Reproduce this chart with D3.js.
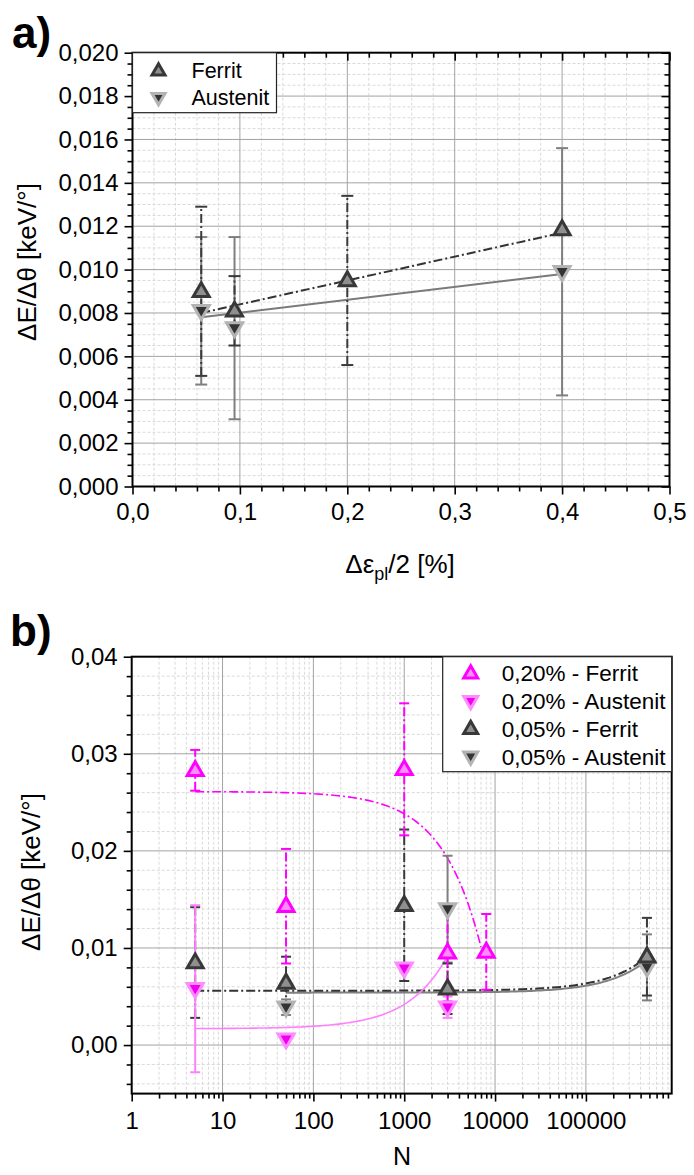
<!DOCTYPE html>
<html>
<head>
<meta charset="utf-8">
<script src="https://cdn.jsdelivr.net/npm/d3@7"></script>
<style>
  body { margin: 0; background: #fff; }
  svg { display: block; }
  text { font-family: "Liberation Sans", Arial, sans-serif; fill: #000; }
</style>
</head>
<body>
<svg id="chart" width="694" height="1175"></svg>
<script>
// ---------- DATA: chart a) ----------
const aStrainFerrit = [0.064, 0.095, 0.2, 0.4];
const aFerrit = [0.0090, 0.0081, 0.0095, 0.01185];
const aFerritErr = [0.0039, 0.0016, 0.0039, 0];
const aStrainAust = [0.064, 0.095, 0.4];
const aAust = [0.0081, 0.0073, 0.0099];
const aAustErr = [0.0034, 0.0042, 0.0057];
const aFitFerrit = [[0.064, 0.0080], [0.4, 0.0117]];
const aFitAust = [[0.064, 0.0078], [0.4, 0.0098]];
const aXTicks = [0, 0.1, 0.2, 0.3, 0.4, 0.5];
const aYTicks = [0, 0.002, 0.004, 0.006, 0.008, 0.010, 0.012, 0.014, 0.016, 0.018, 0.020];
const aLegend = ["Ferrit", "Austenit"];

// ---------- DATA: chart b) ----------
const bN_F20 = [5, 50, 1000, 3000, 8000];
const bF20 = [0.0283, 0.0143, 0.0284, 0.0095, 0.0096];
const bF20Err = [0.0021, 0.0059, 0.0068, 0.0050, 0.0039];
const bN_A20 = [5, 50, 1000, 3000];
const bA20 = [0.0058, 0.0006, 0.0079, 0.0039];
const bA20Err = [0.0086, 0, 0.0003, 0.0011];
const bN_F05 = [5, 50, 1000, 3000, 470000];
const bF05 = [0.0085, 0.0064, 0.0144, 0.0058, 0.0091];
const bF05Err = [0.0057, 0.0027, 0.0078, 0.0026, 0.0040];
const bN_A05 = [50, 3000, 470000];
const bA05 = [0.0039, 0.0140, 0.0080];
const bA05Err = [0.0008, 0.0055, 0.0034];
const bFitF20 = [[5, 0.0261], [7000, 0.0101]];
const bFitA20 = [[5, 0.0017], [3000, 0.0092]];
const bFitF05 = [[5, 0.0056], [470000, 0.0091]];
const bFitA05 = [[50, 0.0054], [450000, 0.0086]];
const bXTicks = [1, 10, 100, 1000, 10000, 100000];
const bYTicks = [0, 0.01, 0.02, 0.03, 0.04];
const bLegend = ["0,20% - Ferrit", "0,20% - Austenit", "0,05% - Ferrit", "0,05% - Austenit"];

// ---------- helpers ----------
const svg = d3.select("#chart");
const loc = d3.formatLocale({decimal: ",", thousands: "", grouping: [3], currency: ["", ""]});
const DASHDOT = "9,3,2,3";
const MAJ = "#a3a3a3", MIN = "#d9d9d9";
const TICKFONT = 24;

const styles = {
  ferrit:  {stroke: "#383838", fill: "#8f8f8f", up: true,  err: "#3a3a3a", dash: DASHDOT},
  aust:    {stroke: "#b3b3b3", fill: "#333333", up: false, err: "#7f7f7f", dash: null},
  ferritM: {stroke: "#ff00ff", fill: "#ff8cff", up: true,  err: "#ff00ff", dash: DASHDOT},
  austM:   {stroke: "#ff8cff", fill: "#ee00ee", up: false, err: "#ff80ff", dash: null}
};

function tri(g, x, y, st, size) {
  const s = size || 15;
  const h = s * 0.87;
  const p = st.up
    ? [[x, y - h * 0.62], [x + s / 2, y + h * 0.38], [x - s / 2, y + h * 0.38]]
    : [[x, y + h * 0.62], [x + s / 2, y - h * 0.38], [x - s / 2, y - h * 0.38]];
  g.append("path").attr("d", "M" + p.map(d => d.join(",")).join("L") + "Z")
    .attr("fill", st.fill).attr("stroke", st.stroke).attr("stroke-width", 3)
    .attr("stroke-linejoin", "miter");
}

function errBar(g, x, y, st, xs, ys, capW) {
  g.append("line").attr("x1", xs(x)).attr("x2", xs(x))
    .attr("y1", ys(y[0])).attr("y2", ys(y[1]))
    .attr("stroke", st.err).attr("stroke-width", 2)
    .attr("stroke-dasharray", st.dash);
  [y[0], y[1]].forEach(v => {
    g.append("line").attr("x1", xs(x) - capW).attr("x2", xs(x) + capW)
      .attr("y1", ys(v)).attr("y2", ys(v))
      .attr("stroke", st.err).attr("stroke-width", 2);
  });
}

// =============== CHART a) ===============
(function () {
  const L = 132.5, R = 669.5, T = 52.7, B = 486.5;
  const x = d3.scaleLinear().domain([0, 0.5]).range([L, R]);
  const y = d3.scaleLinear().domain([0, 0.02]).range([B, T]);
  const g = svg.append("g");

  const xMinor = d3.range(0, 0.5001, 0.02).filter(v => Math.abs(v * 10 - Math.round(v * 10)) > 1e-6);
  const yMinor = d3.range(0, 0.02001, 0.0005).filter(v => Math.abs(v / 0.002 - Math.round(v / 0.002)) > 1e-6);
  xMinor.forEach(v => g.append("line").attr("x1", x(v)).attr("x2", x(v)).attr("y1", T).attr("y2", B)
    .attr("stroke", MIN).attr("stroke-dasharray", "3,2"));
  yMinor.forEach(v => g.append("line").attr("x1", L).attr("x2", R).attr("y1", y(v)).attr("y2", y(v))
    .attr("stroke", MIN).attr("stroke-dasharray", "3,2"));
  aXTicks.slice(1, -1).forEach(v => g.append("line").attr("x1", x(v)).attr("x2", x(v)).attr("y1", T).attr("y2", B)
    .attr("stroke", MAJ));
  aYTicks.slice(1, -1).forEach(v => g.append("line").attr("x1", L).attr("x2", R).attr("y1", y(v)).attr("y2", y(v))
    .attr("stroke", MAJ));

  const fx = loc.format(".1f"), fy = loc.format(".3f");
  const ax = g.append("g").attr("transform", `translate(0,${B})`)
    .call(d3.axisBottom(x).tickValues(aXTicks).tickFormat(fx).tickSize(8).tickPadding(8));
  const axm = g.append("g").attr("transform", `translate(0,${B})`)
    .call(d3.axisBottom(x).tickValues(xMinor).tickFormat("").tickSize(5));
  const ay = g.append("g").attr("transform", `translate(${L},0)`)
    .call(d3.axisLeft(y).tickValues(aYTicks).tickFormat(fy).tickSize(8).tickPadding(6));
  const aym = g.append("g").attr("transform", `translate(${L},0)`)
    .call(d3.axisLeft(y).tickValues(yMinor).tickFormat("").tickSize(5));
  const at = g.append("g").attr("transform", `translate(0,${T})`)
    .call(d3.axisBottom(x).tickValues(aXTicks).tickFormat("").tickSize(8));
  const atm = g.append("g").attr("transform", `translate(0,${T})`)
    .call(d3.axisBottom(x).tickValues(xMinor).tickFormat("").tickSize(5));
  const ar = g.append("g").attr("transform", `translate(${R},0)`)
    .call(d3.axisLeft(y).tickValues(aYTicks).tickFormat("").tickSize(8));
  const arm = g.append("g").attr("transform", `translate(${R},0)`)
    .call(d3.axisLeft(y).tickValues(yMinor).tickFormat("").tickSize(5));
  [ax, axm, ay, aym, at, atm, ar, arm].forEach(a => {
    a.select(".domain").remove();
    a.selectAll(".tick line").attr("stroke", "#000").attr("stroke-width", 1.6);
  });
  [ax, ay].forEach(a => a.selectAll("text").attr("font-size", TICKFONT).attr("fill", "#000"));
  g.append("rect").attr("x", L).attr("y", T).attr("width", R - L).attr("height", B - T)
    .attr("fill", "none").attr("stroke", "#000").attr("stroke-width", 2);

  const line = d3.line().x(d => x(d[0])).y(d => y(d[1]));
  g.append("path").attr("d", line(aFitAust)).attr("stroke", "#7a7a7a").attr("stroke-width", 2).attr("fill", "none");
  g.append("path").attr("d", line(aFitFerrit)).attr("stroke", "#333").attr("stroke-width", 2)
    .attr("stroke-dasharray", DASHDOT).attr("fill", "none");

  aStrainAust.forEach((s, i) => errBar(g, s, [aAust[i] - aAustErr[i], aAust[i] + aAustErr[i]], styles.aust, x, y, 6));
  aStrainFerrit.forEach((s, i) => { if (aFerritErr[i] > 0)
    errBar(g, s, [aFerrit[i] - aFerritErr[i], aFerrit[i] + aFerritErr[i]], styles.ferrit, x, y, 6); });
  aStrainAust.forEach((s, i) => tri(g, x(s), y(aAust[i]), styles.aust, 16));
  aStrainFerrit.forEach((s, i) => tri(g, x(s), y(aFerrit[i]), styles.ferrit, 16));

  const lg = g.append("g");
  lg.append("rect").attr("x", L).attr("y", T).attr("width", 144).attr("height", 60)
    .attr("fill", "#fff").attr("stroke", "#222").attr("stroke-width", 1.2);
  [styles.ferrit, styles.aust].forEach((st, i) => {
    const yy = T + 18 + i * 27;
    tri(lg, L + 26, yy, st, 13);
    lg.append("text").attr("x", L + 59).attr("y", yy).attr("dy", "0.36em")
      .attr("font-size", 21.5).text(aLegend[i]);
  });

  const xt = g.append("text").attr("x", 400).attr("y", 573).attr("text-anchor", "middle").attr("font-size", 26);
  xt.append("tspan").text("Δε");
  xt.append("tspan").attr("font-size", 18).attr("dy", 7).text("pl");
  xt.append("tspan").attr("dy", -7).text("/2 [%]");
  g.append("text").attr("transform", "translate(36,262) rotate(-90)").attr("text-anchor", "middle")
    .attr("font-size", 26).text("ΔE/Δθ [keV/°]");
  g.append("text").attr("x", 12).attr("y", 48).attr("font-family", "'Open Sans', sans-serif")
    .attr("font-weight", "bold").attr("font-size", 44).text("a)");
})();

// =============== CHART b) ===============
(function () {
  const L = 131.7, R = 671.7, T = 656.7, B = 1093.6;
  const x = d3.scaleLog().domain([1, 880000]).range([L, R]);
  const y = d3.scaleLinear().domain([-0.005, 0.04]).range([B, T]);
  const g = svg.append("g");

  const xMinor = [];
  for (let d = 1; d <= 100000; d *= 10) for (let k = 2; k <= 9; k++) if (d * k <= 880000) xMinor.push(d * k);
  const yMinor = d3.range(-0.004, 0.04, 0.002).filter(v => Math.abs(v / 0.01 - Math.round(v / 0.01)) > 1e-6);

  xMinor.forEach(v => g.append("line").attr("x1", x(v)).attr("x2", x(v)).attr("y1", T).attr("y2", B)
    .attr("stroke", MIN).attr("stroke-dasharray", "3,2"));
  yMinor.forEach(v => g.append("line").attr("x1", L).attr("x2", R).attr("y1", y(v)).attr("y2", y(v))
    .attr("stroke", MIN).attr("stroke-dasharray", "3,2"));
  bXTicks.slice(1).forEach(v => g.append("line").attr("x1", x(v)).attr("x2", x(v)).attr("y1", T).attr("y2", B)
    .attr("stroke", MAJ));
  bYTicks.slice(0, -1).forEach(v => g.append("line").attr("x1", L).attr("x2", R).attr("y1", y(v)).attr("y2", y(v))
    .attr("stroke", MAJ));

  const fy = loc.format(".2f");
  const ax = g.append("g").attr("transform", `translate(0,${B})`)
    .call(d3.axisBottom(x).tickValues(bXTicks).tickFormat(d3.format("d")).tickSize(8).tickPadding(10));
  const axm = g.append("g").attr("transform", `translate(0,${B})`)
    .call(d3.axisBottom(x).tickValues(xMinor).tickFormat("").tickSize(5));
  const ay = g.append("g").attr("transform", `translate(${L},0)`)
    .call(d3.axisLeft(y).tickValues(bYTicks).tickFormat(fy).tickSize(8).tickPadding(6));
  const aym = g.append("g").attr("transform", `translate(${L},0)`)
    .call(d3.axisLeft(y).tickValues(yMinor).tickFormat("").tickSize(5));
  [ax, axm, ay, aym].forEach(a => {
    a.select(".domain").remove();
    a.selectAll(".tick line").attr("stroke", "#000").attr("stroke-width", 1.6);
  });
  [ax, ay].forEach(a => a.selectAll("text").attr("font-size", TICKFONT).attr("fill", "#000"));
  g.append("rect").attr("x", L).attr("y", T).attr("width", R - L).attr("height", B - T)
    .attr("fill", "none").attr("stroke", "#000").attr("stroke-width", 2);

  function fitPath(seg) {
    const [[n0, v0], [n1, v1]] = seg;
    const pts = d3.range(0, 121).map(i => {
      const n = Math.exp(Math.log(n0) + (Math.log(n1) - Math.log(n0)) * i / 120);
      return [n, v0 + (v1 - v0) * (n - n0) / (n1 - n0)];
    });
    return d3.line().x(d => x(d[0])).y(d => y(d[1]))(pts);
  }
  g.append("path").attr("d", fitPath(bFitA05)).attr("stroke", "#808080").attr("stroke-width", 2).attr("fill", "none");
  g.append("path").attr("d", fitPath(bFitF05)).attr("stroke", "#333").attr("stroke-width", 2)
    .attr("stroke-dasharray", DASHDOT).attr("fill", "none");
  g.append("path").attr("d", fitPath(bFitA20)).attr("stroke", "#ff80ff").attr("stroke-width", 1.6).attr("fill", "none");
  g.append("path").attr("d", fitPath(bFitF20)).attr("stroke", "#ff00ff").attr("stroke-width", 1.6)
    .attr("stroke-dasharray", DASHDOT).attr("fill", "none");

  const series = [
    {n: bN_A05, v: bA05, e: bA05Err, st: styles.aust},
    {n: bN_F05, v: bF05, e: bF05Err, st: styles.ferrit},
    {n: bN_A20, v: bA20, e: bA20Err, st: styles.austM},
    {n: bN_F20, v: bF20, e: bF20Err, st: styles.ferritM}
  ];
  series.forEach(s => s.n.forEach((n, i) => { if (s.e[i] > 0)
    errBar(g, n, [s.v[i] - s.e[i], s.v[i] + s.e[i]], s.st, x, y, 5); }));
  series.forEach(s => s.n.forEach((n, i) => tri(g, x(n), y(s.v[i]), s.st, 16)));

  const lg = g.append("g");
  lg.append("rect").attr("x", 442.7).attr("y", T).attr("width", R - 442.7).attr("height", 115)
    .attr("fill", "#fff").attr("stroke", "#222").attr("stroke-width", 1.2);
  [styles.ferritM, styles.austM, styles.ferrit, styles.aust].forEach((st, i) => {
    const yy = 673.3 + i * 27.8;
    tri(lg, 470.7, yy, st, 14);
    lg.append("text").attr("x", 501.7).attr("y", yy).attr("dy", "0.36em")
      .attr("font-size", 22.5).text(bLegend[i]);
  });

  g.append("text").attr("x", 402).attr("y", 1165).attr("text-anchor", "middle").attr("font-size", 25).text("N");
  g.append("text").attr("transform", "translate(40,872) rotate(-90)").attr("text-anchor", "middle")
    .attr("font-size", 26).text("ΔE/Δθ [keV/°]");
  g.append("text").attr("x", 10).attr("y", 646).attr("font-family", "'Open Sans', sans-serif")
    .attr("font-weight", "bold").attr("font-size", 44).text("b)");
})();
</script>
</body>
</html>
